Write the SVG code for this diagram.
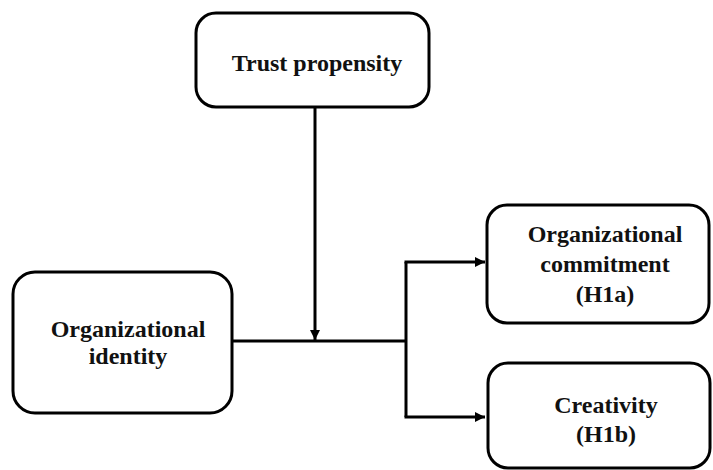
<svg xmlns="http://www.w3.org/2000/svg" width="713" height="470" viewBox="0 0 713 470">
<style>
.box{fill:#fff;stroke:#000;stroke-width:3}
.t{font-family:"Liberation Serif","Times New Roman",serif;font-weight:bold;font-size:24px;fill:#111;text-anchor:middle}
.c{fill:none;stroke:#000;stroke-width:3}
</style>
<defs>
<marker id="ah" viewBox="0 0 10 10" refX="10" refY="5" markerWidth="10" markerHeight="10" markerUnits="userSpaceOnUse" orient="auto">
<path d="M0,0 L10,5 L0,10 Z" fill="#000"/>
</marker>
</defs>
<g id="connectors">
<line class="c" x1="315" y1="107" x2="315" y2="340" marker-end="url(#ah)"/>
<line class="c" x1="232" y1="341" x2="406" y2="341"/>
<polyline class="c" points="406,262 406,417"/>
<line class="c" x1="404.5" y1="262" x2="485" y2="262" marker-end="url(#ah)"/>
<line class="c" x1="404.5" y1="417" x2="485" y2="417" marker-end="url(#ah)"/>
</g>
<g id="trust">
<rect class="box" x="196" y="13" width="233" height="94" rx="20"/>
<text class="t" x="317" y="71">Trust propensity</text>
</g>
<g id="identity">
<rect class="box" x="13" y="272" width="219" height="141" rx="22"/>
<text class="t" x="128" y="337">Organizational</text>
<text class="t" x="128" y="364">identity</text>
</g>
<g id="commitment">
<rect class="box" x="487" y="205" width="222" height="118" rx="20"/>
<text class="t" x="605" y="242">Organizational</text>
<text class="t" x="605" y="272">commitment</text>
<text class="t" x="605" y="302">(H1a)</text>
</g>
<g id="creativity">
<rect class="box" x="488" y="363" width="222" height="105" rx="20"/>
<text class="t" x="606" y="413">Creativity</text>
<text class="t" x="606" y="442">(H1b)</text>
</g>
</svg>
